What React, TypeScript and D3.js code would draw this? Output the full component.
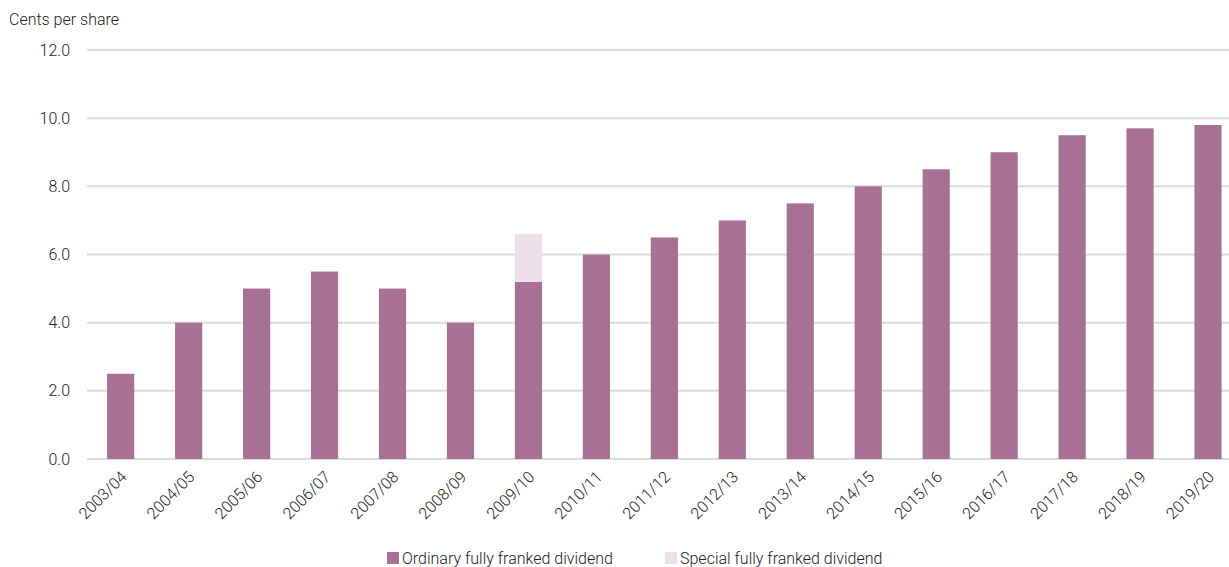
import React from "react";
import * as d3 from "d3";

const categories = ["2003/04","2004/05","2005/06","2006/07","2007/08","2008/09","2009/10","2010/11","2011/12","2012/13","2013/14","2014/15","2015/16","2016/17","2017/18","2018/19","2019/20"];
const ordinary = [2.5,4.0,5.0,5.5,5.0,4.0,5.2,6.0,6.5,7.0,7.5,8.0,8.5,9.0,9.5,9.7,9.8];
const special = [0,0,0,0,0,0,1.4,0,0,0,0,0,0,0,0,0,0];
const yTicks = [0,2,4,6,8,10,12];
const seriesNames = ["Ordinary fully franked dividend","Special fully franked dividend"];

const W = 1229, H = 567;
const C_ORD = "#A87094";
const C_SPEC = "#EDE0E8";
const FONT = "Roboto, 'Noto Sans', sans-serif";

export default function App() {
  const y = d3.scaleLinear().domain([0, 12]).range([459, 50]);
  const x = d3.scaleBand<string>().domain(categories).range([86.7, 1242]).paddingInner(0.6).paddingOuter(0.3);
  const bw = x.bandwidth();
  return (
    <svg width={W} height={H} style={{ position: "absolute", left: 0, top: 0, background: "#fff" }} fontFamily={FONT}>
      <text x={9} y={25} fontSize={16} fill="#222" fontWeight={300}>Cents per share</text>
      {yTicks.map(t => (
        <g key={t}>
          <line x1={87} x2={W} y1={y(t)} y2={y(t)} stroke="#dcdcdc" strokeWidth={2} />
          <text x={70} y={y(t)} dy="0.35em" textAnchor="end" fontSize={16} fill="#222" fontWeight={300}>{t.toFixed(1)}</text>
        </g>
      ))}
      {categories.map((c, i) => (
        <g key={c}>
          <rect x={x(c)} width={bw} y={y(ordinary[i])} height={y(0) - y(ordinary[i])} fill={C_ORD} />
          {special[i] > 0 && (
            <rect x={x(c)} width={bw} y={y(ordinary[i] + special[i])} height={y(ordinary[i]) - y(ordinary[i] + special[i])} fill={C_SPEC} />
          )}
          <text transform={`translate(${(x(c) as number) + bw / 2 + 7},${478}) rotate(-45)`} textAnchor="end" fontSize={16} fill="#222" fontWeight={300}>{c}</text>
        </g>
      ))}
      <rect x={387} y={552} width={12} height={12} fill={C_ORD} />
      <text x={402} y={564} fontSize={16} fill="#222" fontWeight={300}>{seriesNames[0]}</text>
      <rect x={665} y={552} width={12} height={12} fill={C_SPEC} />
      <text x={680} y={564} fontSize={16} fill="#222" fontWeight={300}>{seriesNames[1]}</text>
    </svg>
  );
}
